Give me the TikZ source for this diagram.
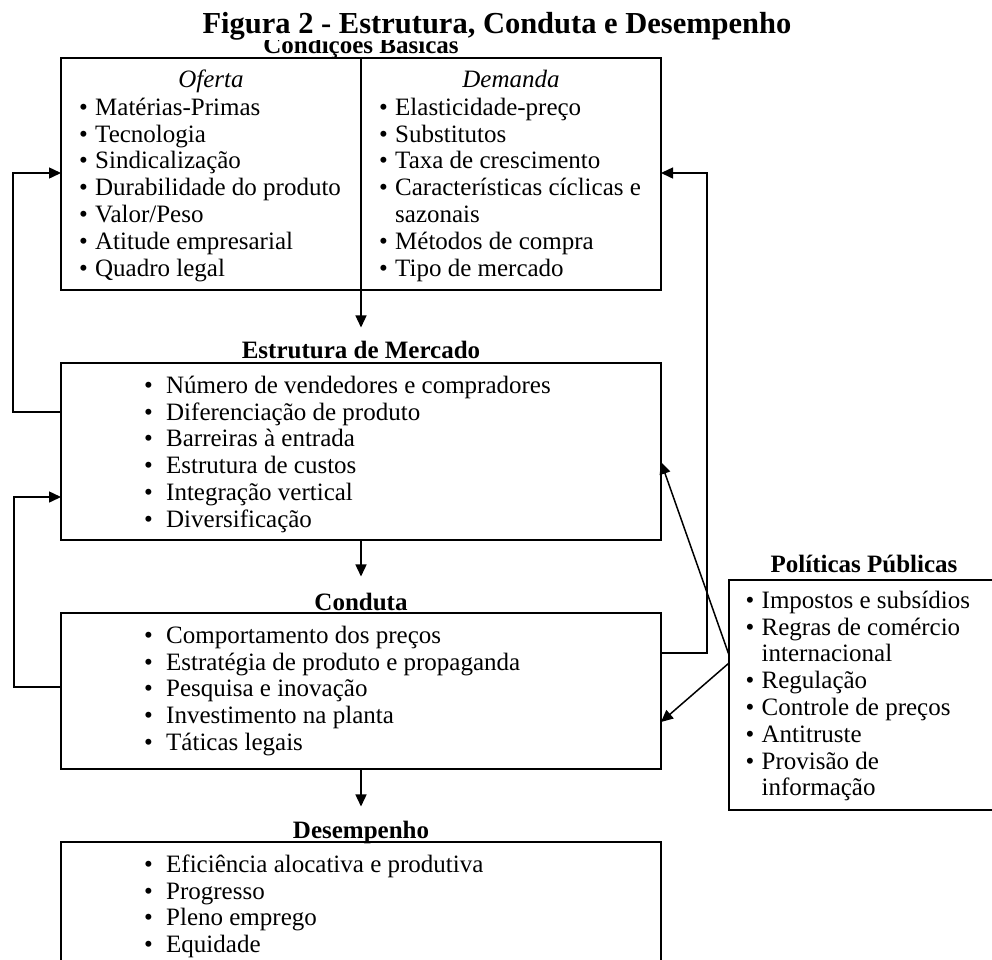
\documentclass[tikz,border=0pt]{standalone}
\usepackage{fontspec}
\setmainfont{Liberation Serif}
\usetikzlibrary{arrows.meta}

\tikzset{
  caixa/.style={draw, line width=1.8pt, minimum width=600pt, anchor=north west, inner sep=0pt, outer sep=0pt},
  lista/.style={anchor=north west, align=left, inner sep=0pt, font=\fontsize{25}{26.8}\selectfont},
  rotulo/.style={anchor=base, inner sep=0pt, font=\fontsize{25}{30}\selectfont\bfseries},
  cabeca/.style={anchor=base, inner sep=0pt, font=\fontsize{25}{30}\selectfont\itshape},
  seta/.style={line width=1.5pt, -{Triangle[length=12pt,width=11pt]}},
  linha/.style={line width=1.5pt}
}
\newcommand{\bl}[1][16pt]{\makebox[#1][l]{\textbullet}}

\begin{document}
\begin{tikzpicture}[x=1pt, y=-1pt]
      \useasboundingbox (0,0) rectangle (992,959);
      \clip (0,0) rectangle (992,959);

      % caixas
      \node[caixa, minimum height=232pt] (basicas) at (61,58) {};
      \node[caixa, minimum height=177pt] (estrutura) at (61,363) {};
      \node[caixa, minimum height=156pt] (conduta) at (61,613) {};
      \node[caixa, minimum height=140pt] (desempenho) at (61,842) {};
      \node[caixa, minimum width=280pt, minimum height=230pt] (politicas) at (729,580) {};

      % rotulos
      \node[rotulo] (tBasicas) at (361,53) {Condições Básicas};
      \node[rotulo] (tEstrutura) at (361,358) {Estrutura de Mercado};
      \node[rotulo] (tConduta) at (361,610) {Conduta};
      \node[rotulo] (tDesempenho) at (361,838) {Desempenho};
      \node[rotulo] (tPoliticas) at (864,572) {Políticas Públicas};
      \node[font=\fontsize{30.5}{36}\selectfont\bfseries, fill=white, inner sep=0pt, anchor=base] (titulo) at (497,33) {Figura 2 - Estrutura, Conduta e Desempenho};

      % condicoes basicas
      \draw[linha] (basicas.north) -- (basicas.south);
      \node[cabeca] (tOferta) at (211,87) {Oferta};
      \node[cabeca] (tDemanda) at (511,87) {Demanda};
      \node[lista] (lOferta) at (79,96.24) {\strut\bl Matérias-Primas\\ \bl Tecnologia\\ \bl Sindicalização\\ \bl Durabilidade do produto\\ \bl Valor/Peso\\ \bl Atitude empresarial\\ \bl Quadro legal};
      \node[lista] (lDemanda) at (379,96.24) {\strut\bl Elasticidade-preço\\ \bl Substitutos\\ \bl Taxa de crescimento\\ \bl Características cíclicas e\\ \hspace*{16pt}sazonais\\ \bl Métodos de compra\\ \bl Tipo de mercado};

      % listas
      \node[lista] (lEstrutura) at (144,374.24) {\strut\bl[22pt]Número de vendedores e compradores\\ \bl[22pt]Diferenciação de produto\\ \bl[22pt]Barreiras à entrada\\ \bl[22pt]Estrutura de custos\\ \bl[22pt]Integração vertical\\ \bl[22pt]Diversificação};
      \node[lista] (lConduta) at (144,624.24) {\strut\bl[22pt]Comportamento dos preços\\ \bl[22pt]Estratégia de produto e propaganda\\ \bl[22pt]Pesquisa e inovação\\ \bl[22pt]Investimento na planta\\ \bl[22pt]Táticas legais};
      \node[lista] (lDesempenho) at (144,853.24) {\strut\bl[22pt]Eficiência alocativa e produtiva\\ \bl[22pt]Progresso\\ \bl[22pt]Pleno emprego\\ \bl[22pt]Equidade};
      \node[lista] (lPoliticas) at (745.5,589.24) {\strut\bl Impostos e subsídios\\ \bl Regras de comércio\\ \hspace*{16pt}internacional\\ \bl Regulação\\ \bl Controle de preços\\ \bl Antitruste\\ \bl Provisão de\\ \hspace*{16pt}informação};

      % setas verticais
      \draw[seta, shorten >=13pt] (basicas.south) -- (tEstrutura.north);
      \draw[seta, shorten >=16pt] (estrutura.south) -- (tConduta.north);
      \draw[seta, shorten >=14pt] (conduta.south) -- (tDesempenho.north);

      % retornos
      \coordinate (ea) at (13,412);
      \coordinate (eb) at (13,173);
      \draw[seta] (estrutura.west |- ea) -- (ea) -- (eb) -- (basicas.west |- eb);
      \coordinate (ca) at (14,687);
      \coordinate (cb) at (14,497);
      \draw[seta] (conduta.west |- ca) -- (ca) -- (cb) -- (estrutura.west |- cb);
      \coordinate (da) at (707,653);
      \coordinate (db) at (707,173);
      \draw[seta] (conduta.east |- da) -- (da) -- (db) -- (basicas.east |- db);

      % politicas publicas
      \coordinate (pa) at (0,655);
      \coordinate (pb) at (0,663);
      \coordinate (pe) at (0,462);
      \coordinate (pc) at (0,722);
      \draw[seta] (politicas.west |- pa) -- (estrutura.east |- pe);
      \draw[seta] (politicas.west |- pb) -- (conduta.east |- pc);
    \end{tikzpicture}
\end{document}
